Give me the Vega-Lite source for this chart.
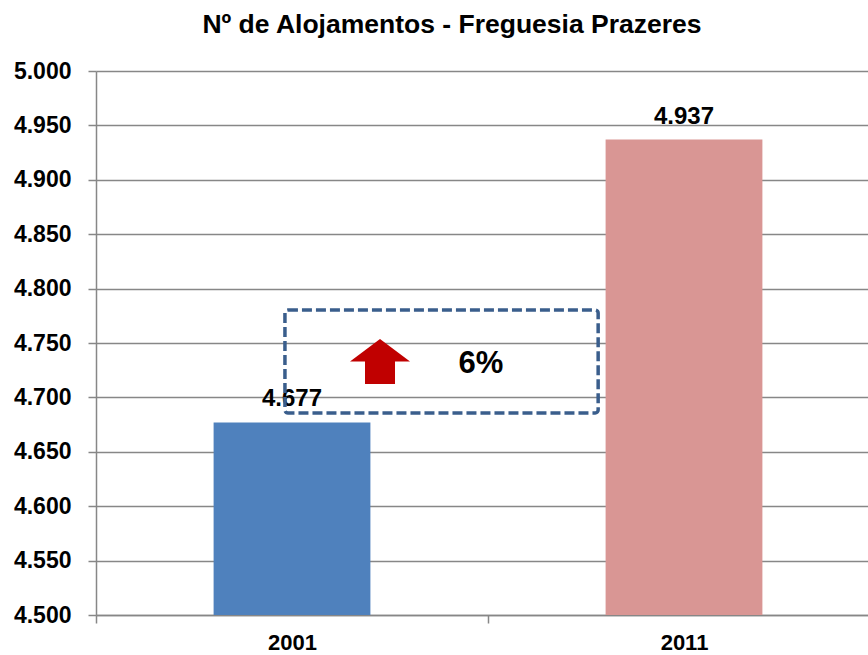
{
  "$schema": "https://vega.github.io/schema/vega-lite/v6.json",
  "width": 772,
  "height": 544,
  "autosize": "none",
  "padding": {"left": 96, "top": 71, "right": 0, "bottom": 40},
  "background": "white",
  "config": {
    "view": {"stroke": null},
    "font": "Liberation Sans"
  },
  "title": {
    "text": "Nº de Alojamentos - Freguesia Prazeres",
    "fontSize": 26.5,
    "fontWeight": "bold",
    "font": "Liberation Sans",
    "color": "black",
    "anchor": "middle",
    "frame": "group",
    "dx": -30,
    "offset": 22
  },
  "datasets": {
    "bars": [
      {"year": "2001", "value": 4677, "label": "4.677"},
      {"year": "2011", "value": 4937, "label": "4.937"}
    ],
    "box": [
      {"x1": 0.482, "x2": 1.281, "y1": 4685.7, "y2": 4780.3}
    ],
    "arrow": [
      {"x": 0.7245, "y": 4733.0}
    ],
    "pct": [
      {"x": 0.982, "y": 4722.4, "text": "6%"}
    ]
  },
  "layer": [
    {
      "data": {"name": "bars"},
      "encoding": {
        "x": {
          "field": "year",
          "type": "nominal",
          "scale": {"range": [0, 784], "paddingInner": 0, "paddingOuter": 0},
          "axis": {
            "title": null,
            "labelAngle": 0,
            "labelFont": "Liberation Sans",
            "labelFontSize": 22,
            "labelFontWeight": "bold",
            "labelColor": "black",
            "labelPadding": 9,
            "tickBand": "extent",
            "tickSize": 8,
            "tickColor": "#878787",
            "tickWidth": 1.5,
            "domainColor": "#878787",
            "domainWidth": 1.5,
            "grid": false
          }
        },
        "y": {
          "field": "value",
          "type": "quantitative",
          "scale": {"domain": [4500, 5000], "zero": false, "nice": false},
          "axis": {
            "title": null,
            "values": [4500, 4550, 4600, 4650, 4700, 4750, 4800, 4850, 4900, 4950, 5000],
            "labelExpr": "replace(format(datum.value, ',.0f'), ',', '.')",
            "labelFont": "Liberation Sans",
            "labelFontSize": 23,
            "labelFontWeight": "bold",
            "labelColor": "black",
            "labelPadding": 17,
            "tickSize": 8,
            "tickColor": "#878787",
            "tickWidth": 1.5,
            "domainColor": "#878787",
            "domainWidth": 1.5,
            "grid": true,
            "gridColor": "#878787",
            "gridWidth": 1.5
          }
        }
      },
      "layer": [
        {
          "mark": {"type": "bar", "width": {"band": 0.4}},
          "encoding": {
            "y2": {"datum": 4500},
            "color": {
              "field": "year",
              "type": "nominal",
              "scale": {"domain": ["2001", "2011"], "range": ["#4F81BD", "#D99694"]},
              "legend": null
            }
          }
        },
        {
          "mark": {"type": "text", "dy": -16, "baseline": "alphabetic", "align": "center", "fontSize": 24, "fontWeight": "bold", "font": "Liberation Sans", "color": "black"},
          "encoding": {
            "text": {"field": "label"}
          }
        }
      ]
    },
    {
      "layer": [
        {
          "data": {"name": "box"},
          "mark": {"type": "rect", "fill": null, "filled": false, "stroke": "#3A5E8C", "strokeWidth": 3.5, "strokeDash": [10, 4], "cornerRadius": 3},
          "encoding": {
            "x": {"field": "x1", "type": "quantitative", "scale": {"domain": [0, 2], "range": [0, 784], "nice": false, "zero": false}, "axis": null},
            "x2": {"field": "x2"},
            "y": {"field": "y1", "type": "quantitative"},
            "y2": {"field": "y2"}
          }
        },
        {
          "data": {"name": "arrow"},
          "mark": {"type": "point", "shape": "M0,-0.75L1,0L0.5,0L0.5,0.75L-0.5,0.75L-0.5,0L-1,0Z", "filled": true, "fill": "#C00000", "stroke": null, "opacity": 1, "size": 3600},
          "encoding": {
            "x": {"field": "x", "type": "quantitative", "axis": null},
            "y": {"field": "y", "type": "quantitative"}
          }
        },
        {
          "data": {"name": "pct"},
          "mark": {"type": "text", "baseline": "alphabetic", "align": "center", "fontSize": 31, "fontWeight": "bold", "font": "Liberation Sans", "color": "black"},
          "encoding": {
            "x": {"field": "x", "type": "quantitative", "axis": null},
            "y": {"field": "y", "type": "quantitative"},
            "text": {"field": "text"}
          }
        }
      ]
    }
  ],
  "resolve": {"scale": {"x": "independent"}, "axis": {"x": "independent"}}
}
